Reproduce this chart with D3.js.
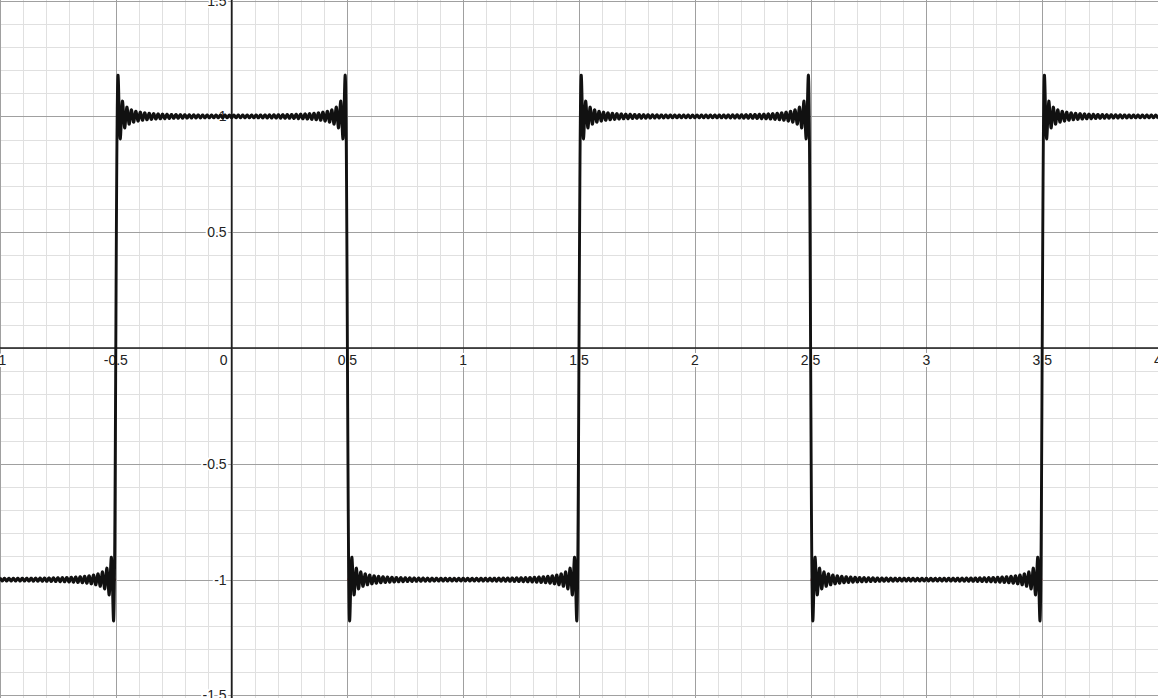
<!DOCTYPE html>
<html>
<head>
<meta charset="utf-8">
<script src="https://cdn.jsdelivr.net/npm/d3@7"></script>
<style>
  html, body { margin: 0; padding: 0; background: #fff; }
  svg { display: block; }
  text { font-family: Arial, "Liberation Sans", sans-serif; font-size: 14px; fill: #222; }
</style>
</head>
<body>
<svg id="chart" width="1158" height="698"></svg>
<script>
// ---- data ----
const xDomain = [-1, 4];
const yDomain = [-1.511, 1.5026];
const xTickValues = [-1, -0.5, 0, 0.5, 1, 1.5, 2, 2.5, 3, 3.5, 4];
const xTickLabels = ["-1", "-0.5", "0", "0.5", "1", "1.5", "2", "2.5", "3", "3.5", "4"];
const yTickValues = [-1.5, -1, -0.5, 0.5, 1, 1.5];
const yTickLabels = ["-1.5", "-1", "-0.5", "0.5", "1", "1.5"];
// odd harmonics of the Fourier partial sum of the square wave (period 2)
const harmonics = [1, 3, 5, 7, 9, 11, 13, 15, 17, 19, 21, 23, 25, 27, 29, 31, 33, 35, 37, 39,
  41, 43, 45, 47, 49, 51, 53, 55, 57, 59, 61, 63, 65, 67, 69, 71, 73, 75, 77, 79,
  81, 83, 85, 87, 89, 91, 93, 95, 97, 99, 101, 103];
const waveAmplitude = 1;
// lower level segments of the target square wave
const lowSegStart = [-1, 0.5, 2.5];
const lowSegEnd = [-0.5, 1.5, 3.5];
const lowLevel = -1;

// ---- drawing ----
const W = 1158, H = 698;
const svg = d3.select("#chart");
const x = d3.scaleLinear().domain(xDomain).range([0, W]);
const y = d3.scaleLinear().domain(yDomain).range([H, 0]);

// minor grid
const minorX = d3.range(-10, 41).map(i => i / 10);
const minorY = d3.range(-15, 16).map(i => i / 10);
const g = svg.append("g");
g.selectAll(".mx").data(minorX).enter().append("line")
  .attr("x1", d => Math.round(x(d)) + 0.5).attr("x2", d => Math.round(x(d)) + 0.5)
  .attr("y1", 0).attr("y2", H).attr("stroke", "#e0e0e0").attr("stroke-width", 1);
g.selectAll(".my").data(minorY).enter().append("line")
  .attr("y1", d => Math.round(y(d)) + 0.5).attr("y2", d => Math.round(y(d)) + 0.5)
  .attr("x1", 0).attr("x2", W).attr("stroke", "#e0e0e0").attr("stroke-width", 1);
// major grid
const majorX = d3.range(-2, 9).map(i => i / 2);
const majorY = d3.range(-3, 4).map(i => i / 2);
g.selectAll(".Mx").data(majorX).enter().append("line")
  .attr("x1", d => Math.round(x(d)) + 0.5).attr("x2", d => Math.round(x(d)) + 0.5)
  .attr("y1", 0).attr("y2", H).attr("stroke", "#a0a0a0").attr("stroke-width", 1);
g.selectAll(".My").data(majorY).enter().append("line")
  .attr("y1", d => Math.round(y(d)) + 0.5).attr("y2", d => Math.round(y(d)) + 0.5)
  .attr("x1", 0).attr("x2", W).attr("stroke", "#a0a0a0").attr("stroke-width", 1);

// axes
svg.append("line").attr("x1", 0).attr("x2", W).attr("y1", y(0)).attr("y2", y(0))
  .attr("stroke", "#1e1e1e").attr("stroke-width", 1.6);
svg.append("line").attr("y1", 0).attr("y2", H).attr("x1", x(0)).attr("x2", x(0))
  .attr("stroke", "#1e1e1e").attr("stroke-width", 1.6);

// tick labels
const lab = svg.append("g");
xTickValues.forEach((v, i) => {
  const isZero = v === 0;
  lab.append("text")
    .attr("x", isZero ? x(0) - 4 : x(v))
    .attr("y", y(0) + 17)
    .attr("text-anchor", isZero ? "end" : "middle")
    .attr("stroke", "#fff").attr("stroke-width", 4).attr("paint-order", "stroke")
    .attr("stroke-linejoin", "round")
    .text(xTickLabels[i]);
});
yTickValues.forEach((v, i) => {
  lab.append("text")
    .attr("x", x(0) - 5)
    .attr("y", y(v))
    .attr("dy", "0.35em")
    .attr("text-anchor", "end")
    .attr("stroke", "#fff").attr("stroke-width", 4).attr("paint-order", "stroke")
    .attr("stroke-linejoin", "round")
    .text(yTickLabels[i]);
});

// red target segments (mostly hidden behind the series curve)
svg.append("g").selectAll("line").data(lowSegStart).enter().append("line")
  .attr("x1", d => x(d)).attr("x2", (d, i) => x(lowSegEnd[i]))
  .attr("y1", y(lowLevel)).attr("y2", y(lowLevel))
  .attr("stroke", "#c74440").attr("stroke-width", 2.5);

// Fourier partial sum
function partialSum(t) {
  let s = 0;
  harmonics.forEach((n, k) => {
    const sign = (k % 2 === 0) ? 1 : -1;
    s += sign * (4 * waveAmplitude / (Math.PI * n)) * Math.cos(n * Math.PI * t);
  });
  return s;
}
const nSamples = 8000;
const pts = d3.range(nSamples + 1).map(i => {
  const t = xDomain[0] + (xDomain[1] - xDomain[0]) * i / nSamples;
  return [t, partialSum(t)];
});
svg.append("path")
  .datum(pts)
  .attr("fill", "none")
  .attr("stroke", "#111")
  .attr("stroke-width", 2.9)
  .attr("stroke-linejoin", "round")
  .attr("d", d3.line().x(d => x(d[0])).y(d => y(d[1])));
</script>
</body>
</html>
